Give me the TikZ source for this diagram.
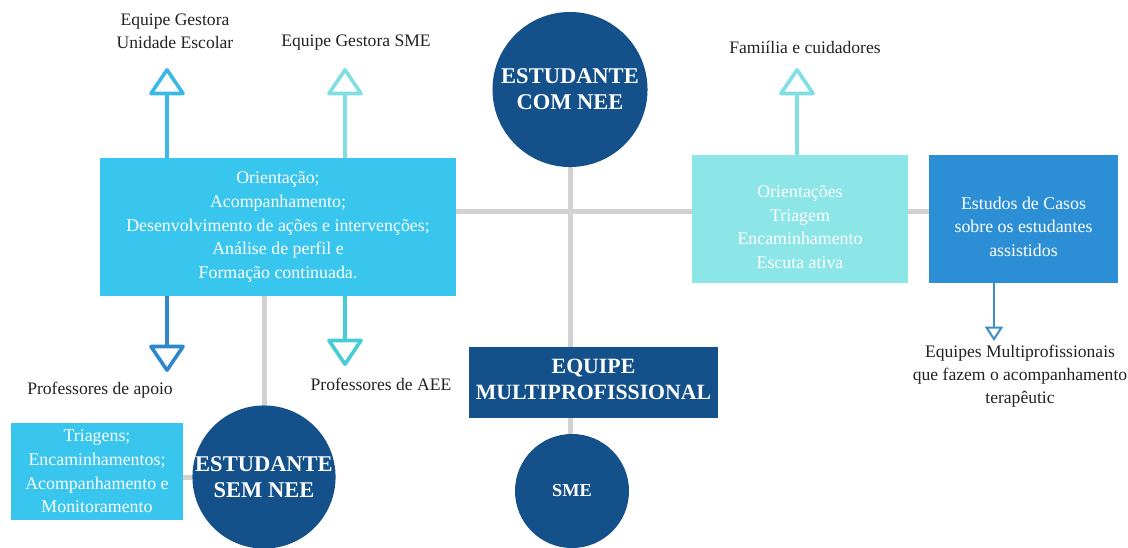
\documentclass[tikz,border=0pt]{standalone}
\usepackage{fontspec}
\setmainfont{Liberation Serif}
\usetikzlibrary{arrows.meta,backgrounds}
\definecolor{skyblue}{HTML}{38C6EF}
\definecolor{paleteal}{HTML}{8CE6E7}
\definecolor{midblue}{HTML}{2C8FD6}
\definecolor{navy}{HTML}{14518A}
\definecolor{linegray}{HTML}{D2D2D2}
\definecolor{labelgray}{HTML}{222222}
\definecolor{arrowsky}{HTML}{3BB8E3}
\definecolor{arrowpale}{HTML}{80DEE4}
\definecolor{arrowblue}{HTML}{2F87CB}
\definecolor{arrowteal}{HTML}{46CCD6}
\definecolor{arrowsmall}{HTML}{3D8DC6}

\begin{document}
\begin{tikzpicture}[x=0.025cm,y=-0.025cm,
  label/.style={align=center, font=\fontsize{12.5}{16.5}\selectfont, text=labelgray},
  boxtext/.style={rectangle, align=center, inner sep=0pt, text=white,
    font=\fontsize{12.7}{16.8}\selectfont},
  boldtext/.style={align=center, inner sep=0pt, text=white,
    font=\bfseries\fontsize{16}{18.5}\selectfont},
  disc/.style={circle, fill=navy, boldtext},
  link/.style={line width=0.125cm, draw=linegray},
  openarrow/.style={line width=0.09cm, -{Triangle[open, length=0.72cm, width=0.95cm, round]}}
]
\useasboundingbox (0,0) rectangle (1128,547);

\node[boxtext, fill=skyblue, minimum width=8.9cm, minimum height=3.45cm] (orient) at (278,227)
{Orientação;\\Acompanhamento;\\Desenvolvimento de ações e intervenções;\\Análise de perfil e\\Formação continuada.};
\node[boxtext, fill=paleteal, minimum width=5.4cm, minimum height=3.2cm] (escuta) at (800,219)
{\rule{0pt}{20pt}Orientações\\Triagem\\Encaminhamento\\Escuta ativa};
\node[boxtext, fill=midblue, minimum width=4.725cm, minimum height=3.2cm] (estudos) at (1023.5,219)
{\rule{0pt}{20pt}Estudos de Casos\\sobre os estudantes\\assistidos};
\node[boxtext, fill=skyblue, minimum width=4.3cm, minimum height=2.425cm] (triagens) at (97,471.5)
{Triagens;\\Encaminhamentos;\\Acompanhamento e\\Monitoramento};
\node[rectangle, fill=navy, boldtext, font=\bfseries\fontsize{15.5}{18.5}\selectfont,
  minimum width=6.225cm, minimum height=1.775cm] (equipe) at (593.5,382.5)
{EQUIPE\\MULTIPROFISSIONAL\rule[-5pt]{0pt}{0pt}};

\node[disc, minimum size=3.875cm] (comnee) at (570,89.5) {ESTUDANTE\\COM NEE};
\node[disc, minimum size=3.45cm] (semnee) at (264,477) {ESTUDANTE\\SEM NEE};
\node[disc, minimum size=2.85cm, font=\bfseries\fontsize{13}{16}\selectfont] (sme) at (572,491) {SME};

\node[label] (gestue) at (175,31) {Equipe Gestora\\Unidade Escolar};
\node[label] (gestsme) at (356,43) {Equipe Gestora SME};
\node[label] (familia) at (805,47) {Famiília e cuidadores};
\node[label] (apoio) at (100,390) {Professores de apoio};
\node[label] (aee) at (381,384) {Professores de AEE};
\node[label] (terap) at (1020,376) {Equipes Multiprofissionais\\que fazem o acompanhamento\\terapêutic};

\coordinate (toue) at (167,68);
\coordinate (tosme) at (345,68);
\coordinate (tofam) at (797,68);
\coordinate (toapoio) at (167,372);
\coordinate (toaee) at (345,366);
\coordinate (toterap) at (994,341);

\begin{scope}[on background layer]
\draw[link] (orient.east |- 0,211) -- (estudos.west |- 0,211);
\draw[link] (comnee.south) -- (comnee.south |- equipe.north);
\draw[link] (comnee.south |- equipe.south) -- (sme.north -| comnee.south);
\draw[link] (semnee.north |- orient.south) -- (semnee.north);
\draw[link] (triagens.east |- semnee.west) -- (semnee.west);
\end{scope}

\draw[openarrow, arrowsky] (orient.north -| toue) -- (toue);
\draw[openarrow, arrowpale] (orient.north -| tosme) -- (tosme);
\draw[openarrow, arrowpale] (escuta.north -| tofam) -- (tofam);
\draw[openarrow, arrowblue] (orient.south -| toapoio) -- (toapoio);
\draw[openarrow, arrowteal] (orient.south -| toaee) -- (toaee);
\draw[line width=0.05cm, arrowsmall, -{Triangle[open, length=0.36cm, width=0.45cm]}]
  (estudos.south -| toterap) -- (toterap);
\end{tikzpicture}
\end{document}
